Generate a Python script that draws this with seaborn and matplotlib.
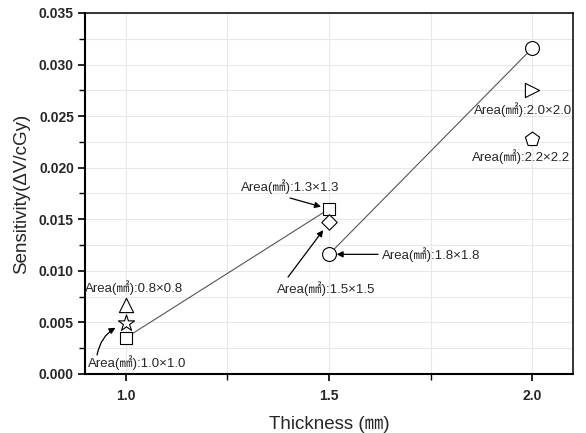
import matplotlib
matplotlib.use("Agg")
import matplotlib.pyplot as plt
import seaborn as sns
import pandas as pd
from matplotlib.ticker import MultipleLocator, FixedLocator, FormatStrFormatter

# ---------------- data ----------------
square_x = [1.0, 1.5]
square_y = [0.0035, 0.0160]
circle_x = [1.5, 2.0]
circle_y = [0.0116, 0.0316]
tri_up_x, tri_up_y = [1.0], [0.0067]
star_x, star_y = [1.0], [0.0049]
diamond_x, diamond_y = [1.5], [0.0147]
tri_right_x, tri_right_y = [2.0], [0.0275]
pent_x, pent_y = [2.0], [0.0228]

area_labels = {
    "tri_up": "0.8×0.8",
    "star": "1.0×1.0",
    "square": "1.3×1.3",
    "diamond": "1.5×1.5",
    "circle": "1.8×1.8",
    "tri_right": "2.0×2.0",
    "pent": "2.2×2.2",
}
x_ticks = [1.0, 1.5, 2.0]
x_label = "Thickness (㎜)"
y_label = "Sensitivity(ΔV/cGy)"

# ---------------- style ----------------
sns.set_style("ticks")
plt.rcParams["font.family"] = ["Liberation Sans", "Noto Sans CJK KR", "DejaVu Sans"]

fig = plt.figure(figsize=(5.86, 4.33), dpi=100)
ax = fig.add_axes([0.1451, 0.1363, 0.8328, 0.8337])

# connecting lines
sns.lineplot(x=square_x, y=square_y, ax=ax, color="#555555", lw=0.8, zorder=2)
sns.lineplot(x=circle_x, y=circle_y, ax=ax, color="#555555", lw=0.8, zorder=2)

# markers
series = [
    (square_x, square_y, "s", 80),
    (circle_x, circle_y, "o", 100),
    (tri_up_x, tri_up_y, "^", 105),
    (star_x, star_y, "*", 150),
    (diamond_x, diamond_y, "D", 62),
    (tri_right_x, tri_right_y, ">", 105),
    (pent_x, pent_y, "p", 115),
]
for xs, ys, m, s in series:
    df = pd.DataFrame({"x": xs, "y": ys})
    sns.scatterplot(data=df, x="x", y="y", marker=m, s=s, ax=ax,
                    color="white", edgecolor="black", linewidth=0.8,
                    zorder=3, legend=False)

# ---------------- annotations ----------------
fs = 9.5
def lab(key):
    return f"Area(㎟):{area_labels[key]}"

arrow = dict(arrowstyle="-|>", color="black", lw=0.9, mutation_scale=9, shrinkA=0)

ax.text(1.0205, 0.00834, lab("tri_up"), fontsize=fs, ha="center", va="center")
ax.text(1.029, 0.00107, lab("star"), fontsize=fs, ha="center", va="center")
ax.annotate("", xy=(star_x[0], star_y[0]), xytext=(0.9295, 0.00184),
            arrowprops=dict(arrow, shrinkB=8, connectionstyle="arc3,rad=-0.3"))

ax.text(1.404, 0.01813, lab("square"), fontsize=fs, ha="center", va="center")
ax.annotate("", xy=(square_x[1], square_y[1]), xytext=(1.404, 0.01706),
            arrowprops=dict(arrow, shrinkB=6))

ax.text(1.4938, 0.00824, lab("diamond"), fontsize=fs, ha="center", va="center")
ax.annotate("", xy=(diamond_x[0], diamond_y[0]), xytext=(1.3992, 0.0094),
            arrowprops=dict(arrow, shrinkB=7))

ax.text(1.630, circle_y[0], lab("circle"), fontsize=fs, ha="left", va="center")
ax.annotate("", xy=(circle_x[0], circle_y[0]), xytext=(1.6205, circle_y[0]),
            arrowprops=dict(arrow, shrinkB=5.5))

ax.text(1.978, 0.0256, lab("tri_right"), fontsize=fs, ha="center", va="center")
ax.text(1.973, 0.02104, lab("pent"), fontsize=fs, ha="center", va="center")

# ---------------- axes ----------------
ax.set_xlim(0.9, 2.1)
ax.set_ylim(0.0, 0.035)
ax.xaxis.set_major_locator(FixedLocator(x_ticks))
ax.xaxis.set_minor_locator(FixedLocator([1.25, 1.75]))
ax.yaxis.set_major_locator(MultipleLocator(0.005))
ax.yaxis.set_minor_locator(MultipleLocator(0.0025))
ax.xaxis.set_major_formatter(FormatStrFormatter("%.1f"))
ax.yaxis.set_major_formatter(FormatStrFormatter("%.3f"))

ax.grid(which="both", color="#e8e8e8", lw=0.8, zorder=0)
ax.set_axisbelow(True)

ax.tick_params(axis="both", which="major", direction="out", length=5, width=1.2,
               labelsize=10, color="black", top=False, right=False)
ax.tick_params(axis="both", which="minor", direction="out", length=4, width=1.0,
               color="black", top=False, right=False)
ax.tick_params(axis="y", which="major", pad=3)
ax.tick_params(axis="x", which="major", pad=6)
for t in ax.get_xticklabels() + ax.get_yticklabels():
    t.set_fontweight("bold")

for side in ["left", "bottom"]:
    ax.spines[side].set_linewidth(1.5)
for side in ["top", "right"]:
    ax.spines[side].set_linewidth(1.1)
for sp in ax.spines.values():
    sp.set_color("black")
    sp.set_visible(True)

ax.set_xlabel(x_label, fontsize=13.5, labelpad=9)
ax.set_ylabel(y_label, fontsize=13.5, labelpad=6)

fig.savefig("out.png", dpi=100)
